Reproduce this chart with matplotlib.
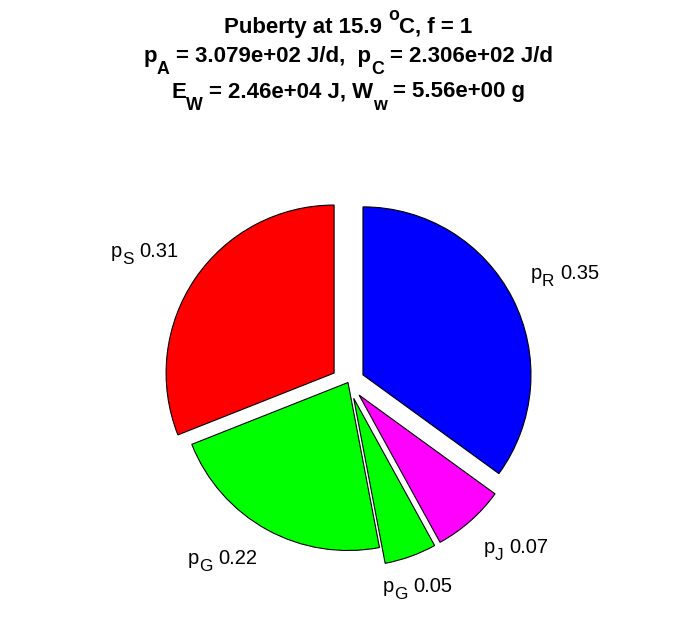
import numpy as np
import matplotlib
matplotlib.use('Agg')
import matplotlib.pyplot as plt
from matplotlib.transforms import IdentityTransform

# ——— DATA ———
flux_names = ['R', 'J', 'G', 'G', 'S']
fractions = [0.35, 0.07, 0.05, 0.22, 0.31]
explode = [0.1, 0.1, 0.1, 0.0, 0.1]
colors = ['#0000FF', '#FF00FF', '#00FF00', '#00FF00', '#FF0000']

# title pieces: (text, kind)  kind 0 = normal, -1 = subscript, 1 = superscript
title_lines = [
    [('Puberty at 15.9 ', 0), ('o', 1), ('C, f = 1', 0)],
    [('p', 0), ('A', -1), (' = 3.079e+02 J/d,  p', 0), ('C', -1), (' = 2.306e+02 J/d', 0)],
    [('E', 0), ('W', -1), (' = 2.46e+04 J, W', 0), ('w', -1), (' = 5.56e+00 g', 0)],
]
title_baselines = [33, 62, 97.5]   # image pixels from top

plt.rcParams['font.family'] = 'Liberation Sans'

W, H = 696, 618
R_PX = 168           # pie radius in pixels
CX, CY = 348, 382.5  # pie centre in image pixels (y down)

fig = plt.figure(figsize=(W / 100, H / 100), dpi=100)
ax = fig.add_axes([0, 0, 1, 1])

wedges, _ = ax.pie(fractions, explode=explode, colors=colors,
                   startangle=90, counterclock=False, radius=1,
                   wedgeprops=dict(edgecolor='black', linewidth=0.8))
ax.set_aspect('auto')
ax.set_xlim(-CX / R_PX, (W - CX) / R_PX)
ax.set_ylim(-(H - CY) / R_PX, CY / R_PX)
ax.axis('off')

RENDERER = fig.canvas.get_renderer()


def adv(s, size, weight):
    # advance width of s in pixels (trailing spaces included)
    a = fig.text(0, 0, 'x' + s + 'x', fontsize=size, fontweight=weight)
    b = fig.text(0, 0, 'xx', fontsize=size, fontweight=weight)
    w = a.get_window_extent(RENDERER).width - b.get_window_extent(RENDERER).width
    a.remove()
    b.remove()
    return w


def rich(x, y, parts, size, ha='left', weight='normal',
         small=0.8, sub_dy=0.4, sup_dy=0.55):
    # x, y: display pixels, y is the baseline
    em = size * 100 / 72
    layout = []
    pen = 0
    for s, kind in parts:
        fs = size * (small if kind else 1)
        body = s.lstrip(' ')
        pen += (len(s) - len(body)) * adv(' ', fs, weight)
        layout.append((pen, body, fs, kind))
        pen += adv(body, fs, weight)
    x0 = {'left': x, 'right': x - pen, 'center': x - pen / 2}[ha]
    for px, body, fs, kind in layout:
        dy = {0: 0, -1: -sub_dy * em, 1: sup_dy * em}[kind]
        fig.text(x0 + px, y + dy, body, fontsize=fs, fontweight=weight,
                 ha='left', va='baseline', transform=IdentityTransform())


# wedge labels, just outside each wedge like matlab does
LABEL_SIZE = 14.5
label_em = LABEL_SIZE * 100 / 72
for w, name, frac in zip(wedges, flux_names, fractions):
    ang = np.deg2rad((w.theta1 + w.theta2) / 2)
    c, s = np.cos(ang), np.sin(ang)
    px, py = ax.transData.transform((w.center[0] + 1.12 * c,
                                     w.center[1] + 1.12 * s))
    if abs(c) < 0.4:
        ha = 'center'
    else:
        ha = 'left' if c > 0 else 'right'
    base = py + 0.52 * label_em if s > 0 else py - 0.82 * label_em
    rich(px, base, [('p', 0), (name, -1), (' %.2f' % frac, 0)], LABEL_SIZE,
         ha=ha, small=0.85, sub_dy=0.37)

# title, three lines
for parts, b in zip(title_lines, title_baselines):
    rich(W / 2, H - b, parts, 16, ha='center', weight='bold',
         small=0.8, sub_dy=0.55, sup_dy=0.6)

fig.savefig('out.png', dpi=100)
